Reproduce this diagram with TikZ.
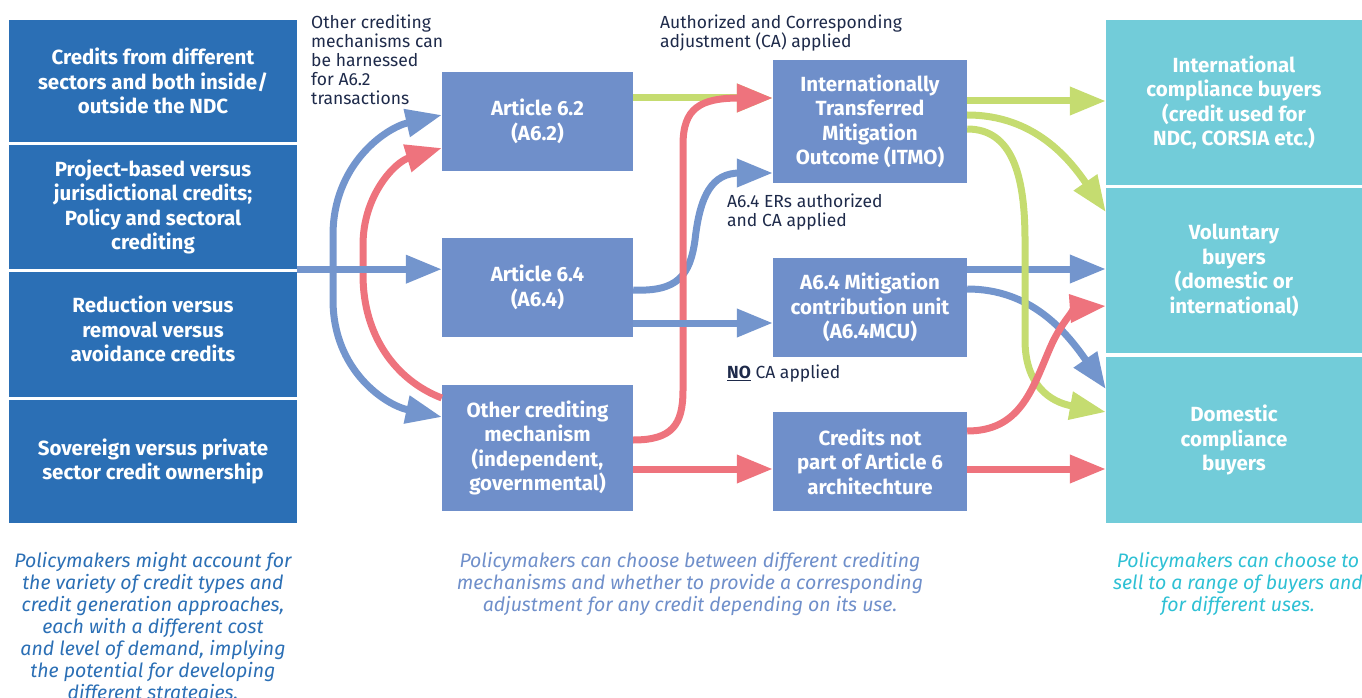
\documentclass[tikz,border=0pt]{standalone}
\usepackage{fontspec}
\setmainfont{Fira Sans}
\usetikzlibrary{arrows.meta,calc}
\definecolor{leftblue}{HTML}{2B6FB5}
\definecolor{midblue}{HTML}{6F8FCA}
\definecolor{tealbox}{HTML}{72CCD9}
\definecolor{arblue}{HTML}{7395CD}
\definecolor{arred}{HTML}{EE737D}
\definecolor{argreen}{HTML}{C5DC70}
\definecolor{navy}{HTML}{1E2A4A}
\definecolor{capteal}{HTML}{2EC0D4}
\begin{document}
\begin{tikzpicture}[x=1pt,y=-1pt,
  boxfont/.style={font=\bfseries\fontsize{20.5}{24.5}\selectfont},
  box/.style={fill=#1, text=white, boxfont, align=center, inner sep=0pt},
  note/.style={text=navy, font=\fontsize{17.5}{19}\selectfont, align=left, inner sep=0pt, anchor=north west},
  cap/.style={text=#1, font=\itshape\fontsize{19.5}{22}\selectfont, align=center, inner sep=0pt, anchor=north},
  arr/.style={draw=#1, line width=7pt, -{Triangle[length=36pt,width=27pt]}},
  darr/.style={draw=#1, line width=7pt, {Triangle[length=36pt,width=27pt]}-{Triangle[length=36pt,width=27pt]}}
]
\useasboundingbox (0,0) rectangle (1362,698);

% left column
\node[box=leftblue, minimum width=288pt, minimum height=122pt] (L1) at (153,81) {Credits from different\\sectors and both inside/\\outside the NDC};
\node[box=leftblue, minimum width=288pt, minimum height=124pt] (L2) at (153,207) {Project-based versus\\jurisdictional credits;\\Policy and sectoral\\crediting};
\node[box=leftblue, minimum width=288pt, minimum height=125pt] (L3) at (153,334.5) {};
\node[text=white, boxfont, align=center, inner sep=0pt] (L3t) at (153,329) {Reduction versus\\removal versus\\avoidance credits};
\node[box=leftblue, minimum width=288pt, minimum height=123pt] (L4) at (153,461.5) {Sovereign versus private\\sector credit ownership};

% middle boxes
\node[box=midblue, minimum width=191pt, minimum height=99pt] (a62) at (537.5,121.5) {Article 6.2\\(A6.2)};
\node[box=midblue, minimum width=191pt, minimum height=99pt] (a64) at (537.5,287.5) {Article 6.4\\(A6.4)};
\node[box=midblue, minimum width=191pt, minimum height=126pt] (oth) at (537.5,448) {Other crediting\\mechanism\\(independent,\\governmental)};
\node[box=midblue, minimum width=194pt, minimum height=123pt] (itmo) at (870,121.5) {Internationally\\Transferred\\Mitigation\\Outcome (ITMO)};
\node[box=midblue, minimum width=194pt, minimum height=99pt] (mcu) at (870,307.5) {A6.4 Mitigation\\contribution unit\\(A6.4MCU)};
\node[box=midblue, minimum width=194pt, minimum height=99pt] (cnp) at (870,461.5) {Credits not\\part of Article 6\\architechture};

% right column
\node[box=tealbox, minimum width=256pt, minimum height=165pt] (R1) at (1234,102.5) {International\\compliance buyers\\(credit used for\\NDC, CORSIA etc.)};
\node[box=tealbox, minimum width=256pt, minimum height=165pt] (R2) at (1234,270.5) {Voluntary\\buyers\\(domestic or\\international)};
\node[box=tealbox, minimum width=256pt, minimum height=166pt] (R3) at (1234,440) {Domestic\\compliance\\buyers};

% notes
\node[note] (n1) at (311,14.5) {Other crediting\\mechanisms can\\be harnessed\\for A6.2\\transactions};
\node[note] (n2) at (660,14.5) {Authorized and Corresponding\\adjustment (CA) applied};
\node[note] (n3) at (727,194) {A6.4 ERs authorized\\and CA applied};
\node[note] (n4) at (727,365) {\underline{\textbf{NO}} CA applied};

% captions
\node[cap=leftblue] (c1) at (153,552) {Policymakers might account for\\the variety of credit types and\\credit generation approaches,\\each with a different cost\\and level of demand, implying\\the potential for developing\\different strategies.};
\node[cap=midblue] (c2) at (690,552) {Policymakers can choose between different crediting\\mechanisms and whether to provide a corresponding\\adjustment for any credit depending on its use.};
\node[cap=capteal] (c3) at (1238,552) {Policymakers can choose to\\sell to a range of buyers and\\for different uses.};

% left-side curves
\path[darr=arblue] ($(a62.west)+(0,-6.5)$) .. controls (385,128) and (333,165) .. (333,235) -- (333,300) .. controls (333,370) and (385,405) .. ($(oth.west)+(0,-31)$);
\path[arr=arred] ($(oth.west)+(0,-50)$) .. controls (395,380) and (363,335) .. (363,275) -- (363,245) .. controls (363,195) and (395,162) .. ($(a62.west)+(0,26.5)$);
\path[arr=arblue] (L2.south east) -- (L2.south east -| a64.west);

% middle arrows
\path[arr=argreen] ($(a62.east)+(0,-23.5)$) -- ($(itmo.west)+(0,-23.5)$);
\path[arr=arblue] ($(a64.east)+(0,2.5)$) .. controls (678,292) and (690,275) .. (695,240) .. controls (700,195) and (712,173) .. (740,173) -- ($(itmo.west)+(0,51.5)$);
\path[arr=arred] ($(oth.east)+(0,-8)$) .. controls (672,440) and (683,425) .. (683,390) -- (683,145) .. controls (683,108) and (700,98) .. (740,98) -- ($(itmo.west)+(0,-23.5)$);
\path[arr=arblue] ($(a64.east)+(0,35.5)$) -- ($(mcu.west)+(0,15.5)$);
\path[arr=arred] ($(oth.east)+(0,21)$) -- ($(cnp.west)+(0,7.5)$);

% right arrows
\path[arr=argreen] ($(itmo.east)+(0,-20.5)$) -- ($(R1.west)+(0,-1.5)$);
\path[arr=argreen] ($(itmo.east)+(0,-6.5)$) .. controls (1035,115) and (1070,160) .. ($(R2.west)+(0,-58.5)$);
\path[arr=arblue] ($(mcu.east)+(0,-38.5)$) -- ($(R2.west)+(0,-1.5)$);
\path[arr=arblue] ($(mcu.east)+(0,-18.5)$) .. controls (1030,289) and (1065,330) .. ($(R3.west)+(0,-51)$);
\path[arr=argreen] ($(itmo.east)+(0,7.5)$) .. controls (1012,129) and (1025,175) .. (1025,240) -- (1025,340) .. controls (1025,385) and (1050,402) .. ($(R3.west)+(0,-28)$);
\path[arr=arred] ($(cnp.east)+(0,-30.5)$) .. controls (1020,431) and (1032,390) .. (1050,348) .. controls (1062,320) and (1078,308) .. ($(R2.west)+(0,35.5)$);
\path[arr=arred] ($(cnp.east)+(0,7.5)$) -- ($(R3.west)+(0,29)$);
\end{tikzpicture}
\end{document}
